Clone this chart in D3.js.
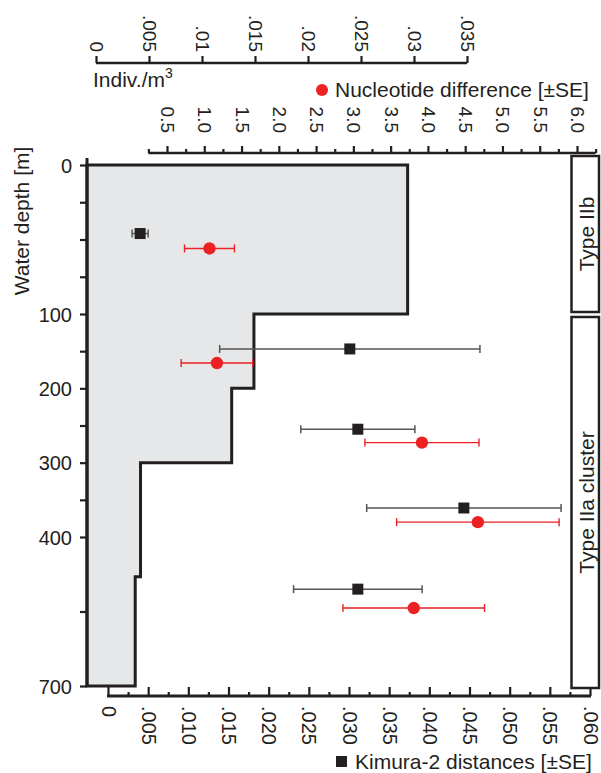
<!DOCTYPE html>
<html>
<head>
<meta charset="utf-8">
<script src="https://cdn.jsdelivr.net/npm/d3@7/dist/d3.min.js"></script>
<style>
  html, body { margin: 0; padding: 0; background: #fff; }
  svg { display: block; font-family: "Liberation Sans", Arial, Helvetica, sans-serif; }
  text { fill: #231f20; }
</style>
</head>
<body>
<svg id="chart" width="601" height="773"></svg>
<script>
// ---------------- DATA ----------------
// Depth axis
const depthTicks = [0, 25, 50, 75, 100, 150, 200, 250, 300, 350, 400, 550, 700];
const depthLabels = [0, 100, 200, 300, 400, 700];

// Abundance histogram (Indiv./m3) per depth bin
const binTop    = [0, 100, 200, 300, 480];
const binBottom = [100, 200, 300, 480, 700];
const abundance = [0.0294, 0.0149, 0.0128, 0.0042, 0.0037];

// Indiv./m3 axis
const indivTicks  = [0, 0.005, 0.01, 0.015, 0.02, 0.025, 0.03, 0.035];
const indivLabels = ["0", ".005", ".01", ".015", ".02", ".025", ".03", ".035"];

// Nucleotide difference axis
const nucTicks  = [0.5, 1.0, 1.5, 2.0, 2.5, 3.0, 3.5, 4.0, 4.5, 5.0, 5.5, 6.0];
const nucLabels = ["0.5", "1.0", "1.5", "2.0", "2.5", "3.0", "3.5", "4.0", "4.5", "5.0", "5.5", "6.0"];
const nucMinor  = [0.25, 0.75, 1.25, 1.75, 2.25, 2.75, 3.25, 3.75, 4.25, 4.75, 5.25, 5.75, 6.25];

// Kimura-2 axis
const kimTicks  = [0, 0.005, 0.010, 0.015, 0.020, 0.025, 0.030, 0.035, 0.040, 0.045, 0.050, 0.055, 0.060];
const kimLabels = ["0", ".005", ".010", ".015", ".020", ".025", ".030", ".035", ".040", ".045", ".050", ".055", ".060"];
const kimMinor  = [0.0025, 0.0075, 0.0125, 0.0175, 0.0225, 0.0275, 0.0325, 0.0375, 0.0425, 0.0475, 0.0525, 0.0575];

// Kimura-2 distances [±SE] (black squares)
const kimDepth = [46, 147, 255, 361, 505];
const kimValue = [0.0040, 0.0301, 0.0311, 0.0443, 0.0311];
const kimSE    = [0.0010, 0.0162, 0.0071, 0.0121, 0.0080];

// Nucleotide difference [±SE] (red circles)
const nucDepth = [56, 166, 273, 380, 543];
const nucValue = [1.07, 1.17, 3.92, 4.67, 3.81];
const nucSE    = [0.335, 0.48, 0.765, 1.09, 0.95];

// Type groups
const typeLabels = ["Type IIb", "Type IIa cluster"];

// ---------------- LAYOUT ----------------
const ink = "#231f20", red = "#ed2024", barGrey = "#555555", fillGrey = "#e6e7e8";
const frameLeft = 87;
const svg = d3.select("#chart");

const y = d3.scaleLinear().domain([0, 100, 400, 700]).range([165, 314, 537, 686]);
const xInd = d3.scaleLinear().domain([0, 0.035]).range([96, 467]);
const xNuc = d3.scaleLinear().domain([0.5, 6.0]).range([167, 577]);
const xKim = d3.scaleLinear().domain([0, 0.060]).range([108, 590]);

// ---------------- HISTOGRAM ----------------
const pts = [[frameLeft, y(binTop[0])]];
abundance.forEach((v, i) => {
  pts.push([xInd(v), y(binTop[i])]);
  pts.push([xInd(v), y(binBottom[i])]);
});
pts.push([frameLeft, y(binBottom[binBottom.length - 1])]);
svg.append("path")
  .attr("d", d3.line()(pts) + "Z")
  .attr("fill", fillGrey)
  .attr("stroke", ink)
  .attr("stroke-width", 3)
  .attr("stroke-linejoin", "miter");

// ---------------- AXES ----------------
function styleAxis(g) {
  g.select(".domain").remove();
  g.selectAll(".tick line").attr("stroke", ink).attr("stroke-width", 2.2);
  g.selectAll(".tick text").attr("fill", ink);
}

// Depth axis (left)
const gDepth = svg.append("g").attr("transform", `translate(${frameLeft},0)`)
  .call(d3.axisLeft(y).tickValues(depthTicks).tickSize(7)
    .tickFormat(d => depthLabels.includes(d) ? String(d) : ""));
styleAxis(gDepth);
gDepth.selectAll(".tick text").attr("font-size", 20).attr("x", -15).attr("dy", "0.35em");
gDepth.append("line").attr("x1", 0).attr("x2", 0)
  .attr("y1", y(0) - 7).attr("y2", y(700))
  .attr("stroke", ink).attr("stroke-width", 3);

// Indiv./m3 axis (top)
const yIndAxis = 63;
const gInd = svg.append("g").attr("transform", `translate(0,${yIndAxis})`)
  .call(d3.axisTop(xInd).tickValues(indivTicks).tickSize(7)
    .tickFormat((d, i) => indivLabels[i]));
styleAxis(gInd);
gInd.append("line").attr("x1", xInd(indivTicks[0])).attr("x2", xInd(indivTicks[indivTicks.length - 1]))
  .attr("stroke", ink).attr("stroke-width", 2.5);
gInd.selectAll(".tick text")
  .attr("font-size", 19).attr("y", 0).attr("dy", null)
  .attr("text-anchor", "end").attr("dominant-baseline", "central")
  .attr("transform", "translate(0,-11) rotate(90)");
svg.append("text").attr("x", 93).attr("y", 87).attr("font-size", 21)
  .text("Indiv./m").append("tspan").attr("font-size", 14).attr("dy", -9).text("3");

// Nucleotide axis (top, second)
const yNucAxis = 153;
const gNucMinor = svg.append("g").attr("transform", `translate(0,${yNucAxis})`)
  .call(d3.axisTop(xNuc).tickValues(nucMinor).tickSize(4).tickFormat(""));
styleAxis(gNucMinor);
const gNuc = svg.append("g").attr("transform", `translate(0,${yNucAxis})`)
  .call(d3.axisTop(xNuc).tickValues(nucTicks).tickSize(7)
    .tickFormat((d, i) => nucLabels[i]));
styleAxis(gNuc);
gNuc.append("line").attr("x1", xNuc(nucMinor[0])).attr("x2", xNuc(nucMinor[nucMinor.length - 1]))
  .attr("stroke", ink).attr("stroke-width", 2.5);
gNuc.selectAll(".tick text")
  .attr("font-size", 19).attr("y", 0).attr("dy", null)
  .attr("text-anchor", "end").attr("dominant-baseline", "central")
  .attr("transform", "translate(0,-20) rotate(90)");

// Kimura axis (bottom)
const yKimAxis = 696;
const gKimMinor = svg.append("g").attr("transform", `translate(0,${yKimAxis})`)
  .call(d3.axisBottom(xKim).tickValues(kimMinor).tickSize(-4).tickFormat(""));
styleAxis(gKimMinor);
const gKim = svg.append("g").attr("transform", `translate(0,${yKimAxis})`)
  .call(d3.axisBottom(xKim).tickValues(kimTicks).tickSize(-9)
    .tickFormat((d, i) => kimLabels[i]));
styleAxis(gKim);
gKim.append("line").attr("x1", xKim(kimTicks[0]) - 1).attr("x2", xKim(kimTicks[kimTicks.length - 1]) + 1)
  .attr("stroke", ink).attr("stroke-width", 3);
gKim.selectAll(".tick text")
  .attr("font-size", 20).attr("y", 0).attr("dy", null)
  .attr("text-anchor", "start").attr("dominant-baseline", "central")
  .attr("transform", "translate(0,10) rotate(90)");

// ---------------- ERROR BARS & POINTS ----------------
function errBars(depths, vals, ses, xs, color, w) {
  const g = svg.append("g");
  depths.forEach((dp, i) => {
    const yy = y(dp), x0 = xs(vals[i] - ses[i]), x1 = xs(vals[i] + ses[i]);
    g.append("line").attr("x1", x0).attr("x2", x1).attr("y1", yy).attr("y2", yy)
      .attr("stroke", color).attr("stroke-width", w);
    [x0, x1].forEach(xc => g.append("line").attr("x1", xc).attr("x2", xc)
      .attr("y1", yy - 4).attr("y2", yy + 4).attr("stroke", color).attr("stroke-width", w));
  });
}
errBars(kimDepth, kimValue, kimSE, xKim, barGrey, 1.5);
errBars(nucDepth, nucValue, nucSE, xNuc, red, 1.4);

svg.append("g").selectAll("rect").data(kimDepth).join("rect")
  .attr("x", (d, i) => xKim(kimValue[i]) - 5.5).attr("y", d => y(d) - 5.5)
  .attr("width", 11).attr("height", 11).attr("fill", ink);
svg.append("g").selectAll("circle").data(nucDepth).join("circle")
  .attr("cx", (d, i) => xNuc(nucValue[i])).attr("cy", d => y(d))
  .attr("r", 6.2).attr("fill", red);

// ---------------- LEGENDS ----------------
svg.append("circle").attr("cx", 322).attr("cy", 90).attr("r", 6).attr("fill", red);
svg.append("text").attr("x", 335).attr("y", 97).attr("font-size", 21).text("Nucleotide difference [±SE]");
svg.append("rect").attr("x", 336).attr("y", 756).attr("width", 11).attr("height", 11).attr("fill", ink);
svg.append("text").attr("x", 355).attr("y", 769).attr("font-size", 21).text("Kimura-2 distances [±SE]");

// Water depth label
svg.append("text").attr("transform", "translate(29,221) rotate(-90)")
  .attr("text-anchor", "middle").attr("font-size", 21).text("Water depth [m]");

// ---------------- TYPE BOXES ----------------
const boxTop = [156, 317], boxBot = [312, 688];
typeLabels.forEach((t, i) => {
  svg.append("rect").attr("x", 571.5).attr("y", boxTop[i]).attr("width", 27.5)
    .attr("height", boxBot[i] - boxTop[i]).attr("fill", "none")
    .attr("stroke", ink).attr("stroke-width", 2.5);
  svg.append("text")
    .attr("transform", `translate(${593.5},${(boxTop[i] + boxBot[i]) / 2}) rotate(-90)`)
    .attr("text-anchor", "middle").attr("font-size", 21).text(t);
});
</script>
</body>
</html>
